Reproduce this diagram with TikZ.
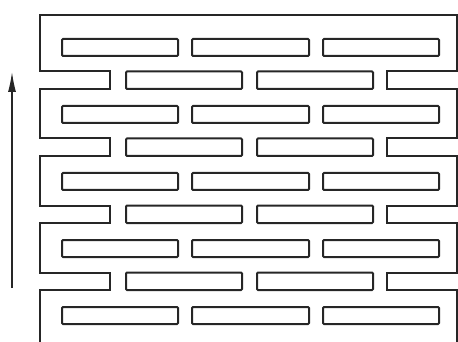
\documentclass[tikz,border=0pt]{standalone}
\usetikzlibrary{arrows.meta}
\begin{document}
\begin{tikzpicture}[x=1pt,y=-1pt,
  wall/.style={line width=2pt, draw=black!85, line join=miter},
  brick/.style={line width=2pt, draw=black!85, rounded corners=1pt},
  flowarrow/.style={line width=1.3pt, draw=black!85, -{Latex[length=20pt,width=8pt]}}]
\useasboundingbox (0,0) rectangle (458,342);
% full-brick rows
\foreach \t in {39,106,173,240,307}{
  \foreach \a/\b in {62/178,192/309,323/439}{
    \draw[brick] (\a,\t) rectangle (\b,\t+17);
  }
}
% offset rows, inner bricks
\foreach \t in {71.5,138.5,205.5,272.5}{
  \foreach \a/\b in {126/242,257/373}{
    \draw[brick] (\a,\t) rectangle (\b,\t+17.5);
  }
}
% serpentine outer wall
\draw[wall] (40,342) -- (40,290) -- (110,290) -- (110,272.5) -- (40,272.5)
  -- (40,223) -- (110,223) -- (110,205.5) -- (40,205.5)
  -- (40,156) -- (110,156) -- (110,138.5) -- (40,138.5)
  -- (40,89) -- (110,89) -- (110,71.5) -- (40,71.5)
  -- (40,15) -- (457,15)
  -- (457,71.5) -- (387,71.5) -- (387,89) -- (457,89)
  -- (457,138.5) -- (387,138.5) -- (387,156) -- (457,156)
  -- (457,205.5) -- (387,205.5) -- (387,223) -- (457,223)
  -- (457,272.5) -- (387,272.5) -- (387,290) -- (457,290)
  -- (457,342);
% flow direction arrow
\coordinate (arrowS) at (12,288);
\coordinate (arrowE) at (12,72);
\draw[flowarrow] (arrowS) -- (arrowE);
\end{tikzpicture}
\end{document}
